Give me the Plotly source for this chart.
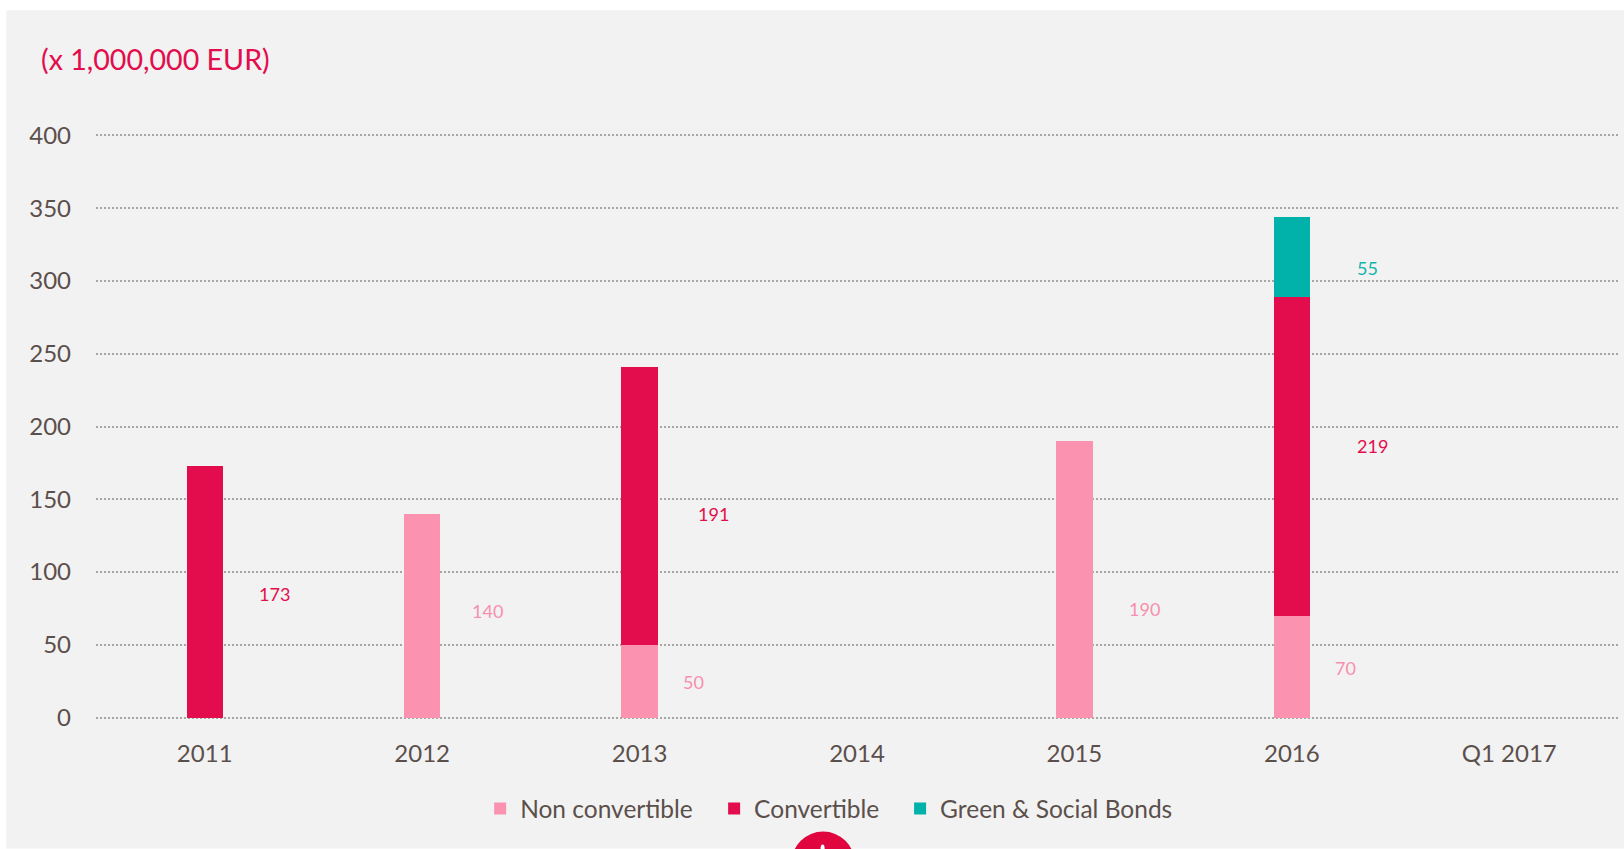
import plotly.graph_objects as go

categories = ["2011", "2012", "2013", "2014", "2015", "2016", "Q1 2017"]
non_convertible = [None, 140, 50, None, 190, 70, None]
convertible = [173, None, 191, None, None, 219, None]
green_social = [None, None, None, None, None, 55, None]
y_ticks = [0, 50, 100, 150, 200, 250, 300, 350, 400]

PINK = "#fb92b0"
RED = "#e30d4d"
TEAL = "#00b2a9"
TEXT = "#5b4f4b"
PANEL = "#f2f2f2"

W, H = 1624, 849
L, R, T, B = 95.8, 1618, 133.85, 719.36


def px(x):
    return (x - L) / (R - L)


def py(y):
    return (B - y) / (B - T)


series = [
    ("Non convertible", non_convertible, PINK, "legend", 480),
    ("Convertible", convertible, RED, "legend2", 714),
    ("Green & Social Bonds", green_social, TEAL, "legend3", 900),
]

fig = go.Figure()
for name, values, color, legend_id, _ in series:
    fig.add_bar(name=name, x=categories, y=values, legend=legend_id,
                marker=dict(color=color, line_width=0), width=0.167)

# Value labels beside each bar segment: (category, base, value, colour, dx, dy)
value_labels = [
    ("2011", 0, 173, RED, 70, 2),
    ("2012", 0, 140, "#f78fae", 65, -5),
    ("2013", 0, 50, "#f78fae", 54, 1),
    ("2013", 50, 191, RED, 74, 8),
    ("2015", 0, 190, "#f78fae", 70, 30),
    ("2016", 0, 70, "#f78fae", 54, 1),
    ("2016", 70, 219, RED, 81, -10),
    ("2016", 289, 55, "#12b5ad", 76, 11),
]
for cat, base, value, color, dx, dy in value_labels:
    fig.add_annotation(
        x=categories.index(cat), y=base + value / 2, text=str(value), showarrow=False,
        xshift=dx, yshift=-dy, font=dict(size=18, color=color),
    )

fig.add_annotation(
    xref="paper", yref="paper", x=px(39), y=py(59), xanchor="left", yanchor="middle",
    text="(x 1,000,000 EUR)", showarrow=False, font=dict(size=28.6, color=RED),
)

shapes = [
    # Grey panel behind the chart
    dict(type="rect", xref="paper", yref="paper", layer="below",
         x0=px(6), x1=px(W), y0=py(H), y1=py(10), fillcolor=PANEL, line_width=0),
    # Red badge cut off by the bottom edge, with the tip of its white mark
    dict(type="circle", xref="paper", yref="paper", layer="above",
         x0=px(823 - 31.6), x1=px(823 + 31.6), y0=py(832 + 63.2), y1=py(832),
         fillcolor="#e0053f", line_width=0),
    dict(type="circle", xref="paper", yref="paper", layer="above",
         x0=px(820.5), x1=px(824.5), y0=py(853), y1=py(845),
         fillcolor="white", line_width=0),
]

layout_legends = {
    legend_id: dict(orientation="h", x=px(left), xanchor="left", y=py(809), yanchor="middle",
                    font=dict(size=24.5, color=TEXT), itemwidth=30, bgcolor="rgba(0,0,0,0)")
    for _, _, _, legend_id, left in series
}

fig.update_layout(
    width=W, height=H, autosize=False,
    margin=dict(l=L, r=W - R, t=T, b=H - B),
    paper_bgcolor="white", plot_bgcolor="rgba(0,0,0,0)",
    barmode="stack", shapes=shapes,
    font=dict(family="Lato", color=TEXT, size=24),
    showlegend=True,
    xaxis=dict(type="category", categoryorder="array", categoryarray=categories,
               range=[-0.5, 6.5], showgrid=False, zeroline=False, showline=False, ticks="",
               ticklabelstandoff=18, tickfont=dict(size=24, color=TEXT)),
    # The range overshoots by one unit so the 0 and 400 gridlines are kept
    yaxis=dict(range=[-1, 401], tickvals=y_ticks, showgrid=True, griddash="2px,2px",
               gridcolor="#a6a6a6", gridwidth=1.5, zeroline=False, showline=False,
               ticks="", ticklabelstandoff=24, tickfont=dict(size=24, color=TEXT)),
    **layout_legends,
)

fig.write_html("out.html")
